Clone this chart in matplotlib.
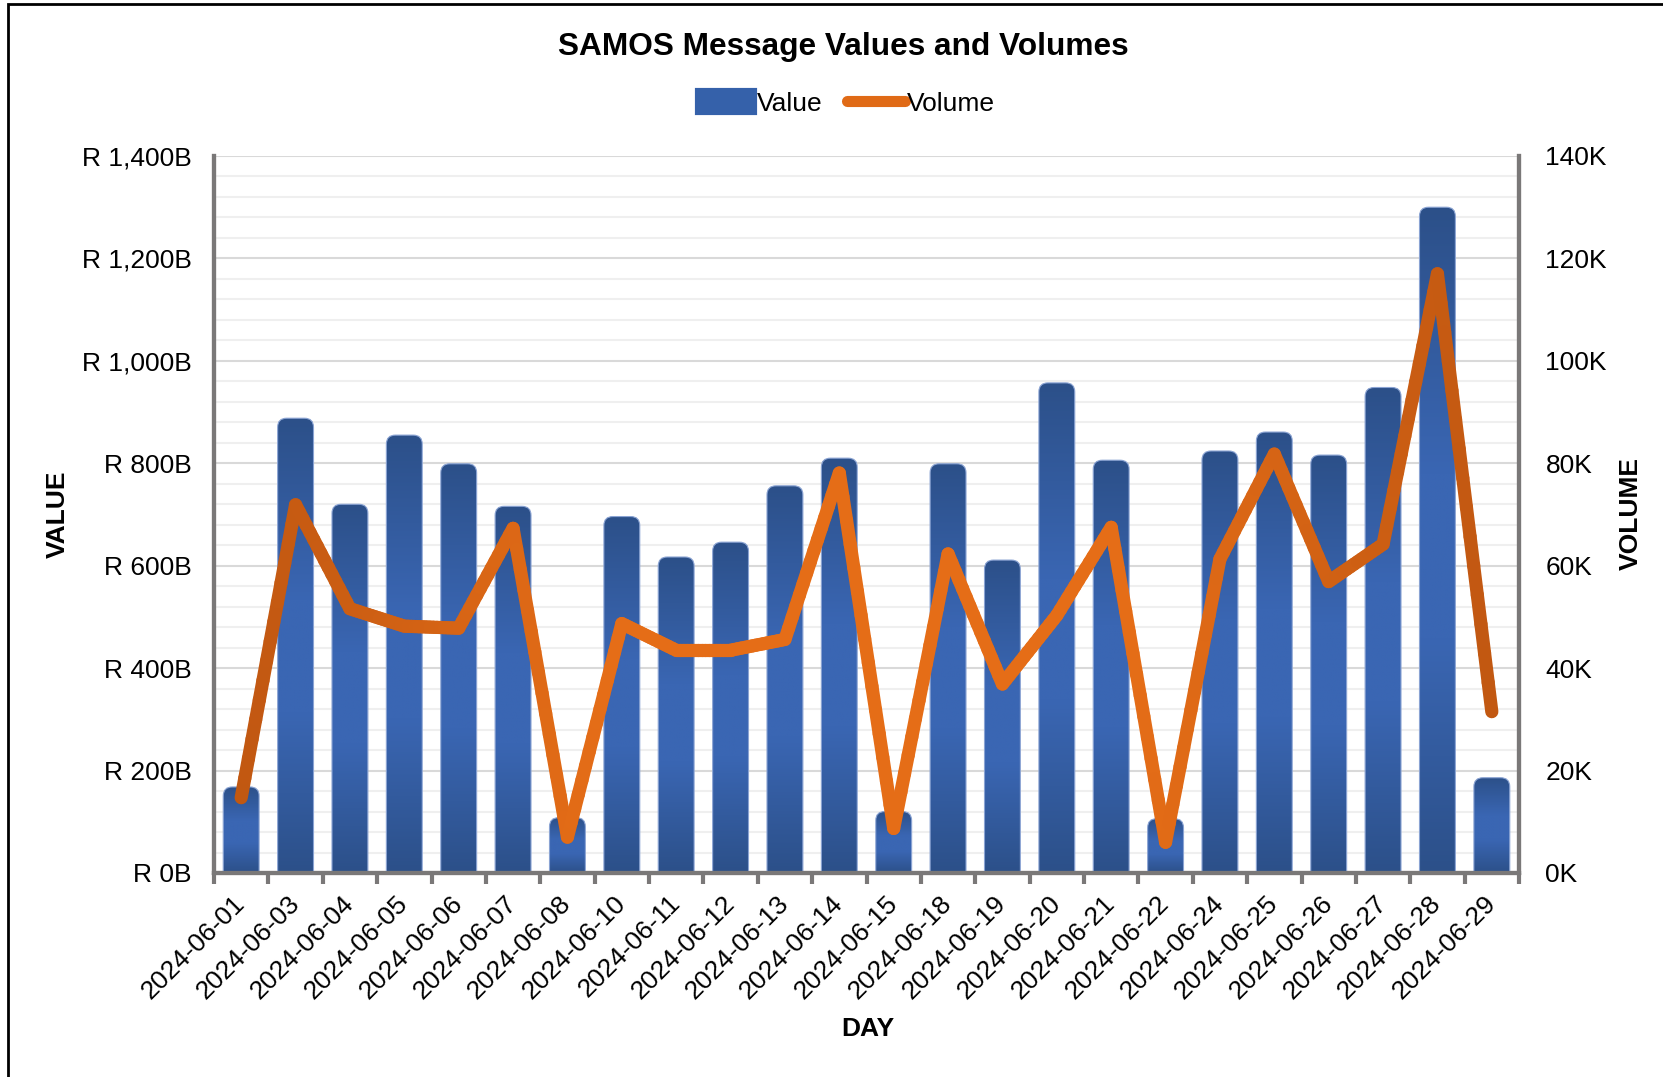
import matplotlib.pyplot as plt
import numpy as np
from matplotlib.path import Path
from matplotlib.patches import PathPatch, Patch, Rectangle
from matplotlib.lines import Line2D
from matplotlib.collections import LineCollection
from matplotlib.colors import LinearSegmentedColormap
from matplotlib.ticker import MultipleLocator, FuncFormatter

plt.rcParams['font.family'] = ['Liberation Sans', 'DejaVu Sans']

# Data
days = ['2024-06-01', '2024-06-03', '2024-06-04', '2024-06-05', '2024-06-06',
        '2024-06-07', '2024-06-08', '2024-06-10', '2024-06-11', '2024-06-12',
        '2024-06-13', '2024-06-14', '2024-06-15', '2024-06-18', '2024-06-19',
        '2024-06-20', '2024-06-21', '2024-06-22', '2024-06-24', '2024-06-25',
        '2024-06-26', '2024-06-27', '2024-06-28', '2024-06-29']
values_bn = [168, 888, 720, 855, 799, 716, 108, 696, 617, 646, 756, 810,
             120, 799, 611, 957, 806, 106, 824, 861, 816, 948, 1300, 186]
volumes = [14700, 71900, 51600, 48200, 47800, 67300, 7000, 48700, 43500,
           43500, 45600, 78100, 8700, 62300, 36900, 50300, 67500, 6000,
           61300, 81800, 56900, 64200, 117000, 31500]

W, H = 1663, 1077
fig = plt.figure(figsize=(W / 100, H / 100), dpi=100)

# axes box in pixels
left, right, top, bottom = 214, 1519, 156, 873
ax = fig.add_axes([left / W, 1 - bottom / H, (right - left) / W, (bottom - top) / H])
ax2 = ax.twinx()

n = len(days)
x = np.arange(n)
ax.set_xlim(-0.5, n - 0.5)
ax.set_ylim(0, 1400)
ax2.set_ylim(0, 140000)

grey = '#7a7878'
fs = 19

# grid
ax.set_axisbelow(True)
ax.yaxis.set_major_locator(MultipleLocator(200))
ax.yaxis.set_minor_locator(MultipleLocator(40))
ax.grid(axis='y', which='major', color='#d9d9d9', lw=1.5)
ax.grid(axis='y', which='minor', color='#efefef', lw=1.5)

# bars with rounded tops and vertical gradient
bar_cmap = LinearSegmentedColormap.from_list(
    'bar', [(0, '#2c5089'), (0.35, '#3a66b3'), (0.6, '#3a66b3'), (1, '#2c5089')])
px_x = (right - left) / n            # px per category
px_y = (bottom - top) / 1400.0       # px per billion
bw = 0.66
r_px = 9
rx, ry = r_px / px_x, r_px / px_y
grad = np.linspace(0, 1, 256).reshape(-1, 1)
for xi, v in zip(x, values_bn):
    x0, x1 = xi - bw / 2, xi + bw / 2
    r_y = min(ry, v)
    verts = [(x0, 0), (x0, v - r_y), (x0, v), (x0 + rx, v), (x1 - rx, v),
             (x1, v), (x1, v - r_y), (x1, 0), (x0, 0)]
    codes = [Path.MOVETO, Path.LINETO, Path.CURVE3, Path.CURVE3, Path.LINETO,
             Path.CURVE3, Path.CURVE3, Path.LINETO, Path.CLOSEPOLY]
    patch = PathPatch(Path(verts, codes), facecolor='none', edgecolor='#8aa3d3',
                      lw=0.8, zorder=3)
    ax.add_patch(patch)
    im = ax.imshow(grad, extent=(x0, x1, 0, v), origin='lower', cmap=bar_cmap,
                   aspect='auto', zorder=2, interpolation='bilinear')
    im.set_clip_path(patch)
ax.set_xlim(-0.5, n - 0.5)
ax.set_ylim(0, 1400)

# volume line with a soft horizontal gradient
line_cmap = LinearSegmentedColormap.from_list(
    'line', [(0, '#bf5611'), (0.3, '#e56d17'), (0.7, '#e56d17'), (1, '#bf5611')])
segs, cols = [], []
for i in range(n - 1):
    xs = np.linspace(x[i], x[i + 1], 16)
    ys = np.linspace(volumes[i], volumes[i + 1], 16)
    for k in range(15):
        segs.append([(xs[k], ys[k]), (xs[k + 1], ys[k + 1])])
        cols.append(line_cmap((xs[k] + 0.5) / n))
lc = LineCollection(segs, colors=cols, linewidths=9.5, capstyle='round',
                    joinstyle='round', zorder=4)
ax2.add_collection(lc)

# axes styling
for a in (ax, ax2):
    a.spines['top'].set_visible(False)
    for s in ('left', 'right', 'bottom'):
        a.spines[s].set_color(grey)
        a.spines[s].set_linewidth(3)

ax.yaxis.set_major_formatter(FuncFormatter(lambda v, p: 'R {:,.0f}B'.format(v)))
ax.tick_params(axis='y', which='both', length=0, pad=16, labelsize=fs)
ax2.yaxis.set_major_locator(MultipleLocator(20000))
ax2.yaxis.set_major_formatter(FuncFormatter(lambda v, p: '{:.0f}K'.format(v / 1000)))
ax2.tick_params(axis='y', which='both', length=0, pad=19, labelsize=fs)

ax.set_xticks(x)
ax.set_xticklabels(days, rotation=45, ha='right', va='center', rotation_mode='anchor')
ax.set_xticks(np.arange(-0.5, n, 1), minor=True)
ax.tick_params(axis='x', which='major', length=0, pad=19, labelsize=fs)
ax.tick_params(axis='x', which='minor', length=8, width=3, color=grey, direction='out')

# titles and axis labels
fig.text(843 / W, 1 - 47 / H, 'SAMOS Message Values and Volumes', ha='center',
         va='center', fontsize=22.8, fontweight='bold')
fig.text(58 / W, 1 - 514 / H, 'VALUE', rotation=90, ha='center', va='center',
         fontsize=fs, fontweight='bold')
fig.text(1631 / W, 1 - 514 / H, 'VOLUME', rotation=90, ha='center', va='center',
         fontsize=fs, fontweight='bold')
fig.text(868 / W, 1 - 1029 / H, 'DAY', ha='center', va='center',
         fontsize=fs, fontweight='bold')

# legend
handles = [Patch(facecolor='#3561aa', edgecolor='#3561aa', lw=3, joinstyle='round'),
           Line2D([0], [0], color='#e06a16', lw=8, solid_capstyle='round')]
fig.legend(handles, ['Value', 'Volume'], loc='center', bbox_to_anchor=(846 / W, 1 - 103 / H),
           ncol=2, frameon=False, fontsize=fs, handlelength=2.2, handleheight=0.95,
           handletextpad=0.1, columnspacing=0.9)

# outer frame (only left and top edges are visible in the reference)
fig.patches.append(Rectangle((8 / W, -0.05), 1.2, 1 - 4 / H + 0.05, transform=fig.transFigure,
                             fill=False, edgecolor='black', lw=2))

fig.savefig('out.png', dpi=100)
